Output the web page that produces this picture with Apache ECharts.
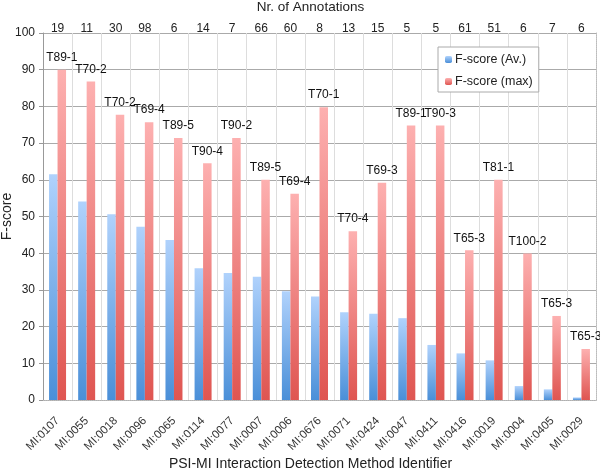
<!DOCTYPE html>
<html>
<head>
<meta charset="utf-8">
<script src="https://cdn.jsdelivr.net/npm/echarts@6/dist/echarts.min.js"></script>
<style>
  html, body { margin: 0; padding: 0; background: #fff; }
  #chart { width: 600px; height: 471px; }
</style>
</head>
<body>
<div id="chart"></div>
<script>
// chart data
const methods = ['MI:0107', 'MI:0055', 'MI:0018', 'MI:0096', 'MI:0065', 'MI:0114', 'MI:0077', 'MI:0007', 'MI:0006', 'MI:0676',
  'MI:0071', 'MI:0424', 'MI:0047', 'MI:0411', 'MI:0416', 'MI:0019', 'MI:0004', 'MI:0405', 'MI:0029']
const annotations = [19, 11, 30, 98, 6, 14, 7, 66, 60, 8, 13, 15, 5, 5, 61, 51, 6, 7, 6]
const fAvg = [61.5, 54.1, 50.6, 47.2, 43.6, 35.9, 34.6, 33.6, 29.6, 28.2, 23.9, 23.5, 22.3, 15.0, 12.7, 10.8, 3.8, 2.9, 0.7]
const fMax = [90, 86.8, 77.7, 75.7, 71.4, 64.5, 71.4, 60, 56.2, 79.8, 46.0, 59.2, 74.8, 74.8, 40.8, 60, 39.9, 22.9, 13.9]
const bestRuns = ['T89-1', 'T70-2', 'T70-2', 'T69-4', 'T89-5', 'T90-4', 'T90-2', 'T89-5', 'T69-4', 'T70-1',
  'T70-4', 'T69-3', 'T89-1', 'T90-3', 'T65-3', 'T81-1', 'T100-2', 'T65-3', 'T65-3']

const font = '"Liberation Sans", Arial, sans-serif'

const grad = (top, bottom) => new echarts.graphic.LinearGradient(0, 0, 0, 1, [
  { offset: 0, color: top },
  { offset: 1, color: bottom },
])

const option = {
  animation: false,
  textStyle: { fontFamily: font, color: '#222' },
  grid: { left: 43, right: 4, top: 33, bottom: 71, outerBoundsMode: 'none', containLabel: false },
  legend: {
    orient: 'vertical',
    left: 438,
    top: 47,
    padding: [6, 6, 4, 7],
    itemWidth: 7,
    itemHeight: 7,
    itemGap: 9,
    backgroundColor: '#fff',
    borderColor: '#aaa',
    borderWidth: 1,
    textStyle: { fontFamily: font, fontSize: 12.5, color: '#222', padding: [0, 0, 0, -2] },
    data: ['F-score (Av.)', 'F-score (max)'],
  },
  xAxis: [
    {
      type: 'category',
      data: methods,
      position: 'bottom',
      name: 'PSI-MI Interaction Detection Method Identifier',
      nameLocation: 'middle',
      nameMoveOverlap: false,
      nameGap: 57,
      nameTextStyle: { fontFamily: font, fontSize: 14, color: '#222', padding: [0, 18, 0, 0] },
      axisLine: { lineStyle: { color: '#999' } },
      axisTick: { lineStyle: { color: '#999' }, length: 4 },
      axisLabel: { rotate: 45, fontFamily: font, fontSize: 11.5, color: '#333', margin: 19 },
      splitLine: { show: true, lineStyle: { color: '#ddd' } },
    },
    {
      type: 'category',
      data: annotations,
      position: 'top',
      name: 'Nr. of Annotations',
      nameLocation: 'middle',
      nameMoveOverlap: false,
      nameGap: 19,
      nameTextStyle: { fontFamily: font, fontSize: 13.5, color: '#222', padding: [0, 18, 0, 0] },
      axisLine: { lineStyle: { color: '#bbb', type: 'dotted' } },
      axisTick: { show: false },
      axisLabel: { fontFamily: font, fontSize: 12, color: '#222', margin: -2 },
    },
  ],
  yAxis: [
    {
      type: 'value',
      min: 0,
      max: 100,
      interval: 10,
      name: 'F-score',
      nameLocation: 'middle',
      nameMoveOverlap: false,
      nameGap: 29,
      nameTextStyle: { fontFamily: font, fontSize: 14, color: '#222' },
      axisLine: { show: true, lineStyle: { color: '#999' } },
      axisTick: { show: true, length: 4, lineStyle: { color: '#999' } },
      axisLabel: { fontFamily: font, fontSize: 12, color: '#222', margin: 8 },
      splitLine: { lineStyle: { color: '#aaa', width: 1.2 } },
    },
    {
      type: 'value',
      position: 'right',
      min: 0,
      max: 100,
      interval: 10,
      axisLine: { show: true, lineStyle: { color: '#bbb', type: 'dotted' } },
      axisTick: { show: false },
      axisLabel: { show: false },
      splitLine: { show: false },
    },
  ],
  series: [
    {
      name: 'F-score (Av.)',
      type: 'bar',
      data: fAvg,
      barWidth: 8.5,
      barGap: '0%',
      itemStyle: { color: grad('#b0d2fc', '#4a8fd8') },
    },
    {
      name: 'F-score (max)',
      type: 'bar',
      data: fMax,
      barWidth: 8.5,
      barGap: '0%',
      itemStyle: { color: grad('#fdb0b0', '#df5551') },
      label: {
        show: true,
        position: 'top',
        distance: 6,
        fontFamily: font,
        fontSize: 12,
        color: '#111',
        formatter: p => bestRuns[p.dataIndex],
      },
    },
  ],
}

const chart = echarts.init(document.getElementById('chart'))
chart.setOption(option)
</script>
</body>
</html>
